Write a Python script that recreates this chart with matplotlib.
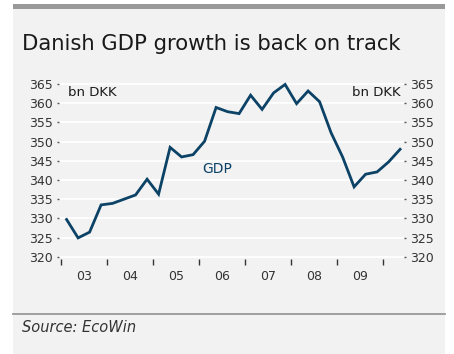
import matplotlib
matplotlib.use("Agg")
import matplotlib.pyplot as plt
from matplotlib.patches import Rectangle
from matplotlib.lines import Line2D
import numpy as np

# Data: quarterly Danish GDP, bn DKK, 2003Q1 - 2010Q2
quarters = ["2003Q1","2003Q2","2003Q3","2003Q4","2004Q1","2004Q2","2004Q3","2004Q4",
            "2005Q1","2005Q2","2005Q3","2005Q4","2006Q1","2006Q2","2006Q3","2006Q4",
            "2007Q1","2007Q2","2007Q3","2007Q4","2008Q1","2008Q2","2008Q3","2008Q4",
            "2009Q1","2009Q2","2009Q3","2009Q4","2010Q1","2010Q2"]
gdp = [329.7, 324.9, 326.4, 333.5, 333.9, 335.0, 336.1, 340.2,
       336.3, 348.5, 346.0, 346.6, 350.1, 358.9, 357.8, 357.3,
       362.1, 358.4, 362.7, 364.9, 359.9, 363.2, 360.4, 352.3,
       346.0, 338.2, 341.5, 342.1, 344.7, 348.0]
year_labels = ["03", "04", "05", "06", "07", "08", "09"]
year_starts = [2003, 2004, 2005, 2006, 2007, 2008, 2009, 2010]
y_ticks = [320, 325, 330, 335, 340, 345, 350, 355, 360, 365]

x = np.array([int(q[:4]) + (int(q[-1]) - 1) / 4 + 0.125 for q in quarters])

W, H = 454, 354
fig = plt.figure(figsize=(W / 100, H / 100), dpi=100)
fig.patch.set_facecolor("white")

bg = "#f2f2f2"
fig.add_artist(Rectangle((13 / W, 0), (445 - 13) / W, 1 - 8 / H,
                         transform=fig.transFigure, facecolor=bg, edgecolor="none", zorder=0))
fig.add_artist(Rectangle((13 / W, 1 - 8.5 / H), (445 - 13) / W, 4.5 / H,
                         transform=fig.transFigure, facecolor="#999999", edgecolor="none", zorder=1))
fig.add_artist(Line2D([13 / W, 445 / W], [1 - 313.5 / H, 1 - 313.5 / H],
                      transform=fig.transFigure, color="#999999", lw=1.3))

fig.text(22 / W, 1 - 44 / H, "Danish GDP growth is back on track", fontsize=15.2,
         color="#1a1a1a", va="center", ha="left")
fig.text(22 / W, 1 - 327 / H, "Source: EcoWin", fontsize=10.5, style="italic",
         color="#333333", va="center", ha="left")

ax_l, ax_r = 59, 404
ax_t, ax_b = 81, 259
ax = fig.add_axes([ax_l / W, 1 - ax_b / H, (ax_r - ax_l) / W, (ax_b - ax_t) / H])
ax.set_facecolor(bg)
for s in ax.spines.values():
    s.set_visible(False)

ax.set_ylim(319.4, 365.8)
ax.set_xlim(2002.96, 2010.46)
ax.set_yticks(y_ticks)
for v in y_ticks:
    ax.axhline(v, color="white", lw=1.3, zorder=1)

ax.plot(x, gdp, color="#0b4266", lw=2.0, zorder=3, solid_joinstyle="miter")

ax.tick_params(axis="y", which="both", left=True, right=True, labelleft=True, labelright=True,
               length=1.5, width=1, color="#555555", labelsize=9, labelcolor="#333333", pad=3)
ax.set_xticks(year_starts)
ax.set_xticklabels([])
ax.set_xticks([y + 0.5 for y in year_starts[:-1]], minor=True)
ax.set_xticklabels(year_labels, minor=True)
ax.tick_params(axis="x", which="major", length=4, width=1, color="#333333", direction="out", pad=0)
ax.tick_params(axis="x", which="minor", length=0, labelsize=9, labelcolor="#333333", pad=8)

ax.text(0.025, 0.935, "bn DKK", transform=ax.transAxes, fontsize=9.5, color="#1a1a1a",
        ha="left", va="center")
ax.text(0.99, 0.935, "bn DKK", transform=ax.transAxes, fontsize=9.5, color="#1a1a1a",
        ha="right", va="center")
ax.text(2006.07, 342.8, "GDP", fontsize=10, color="#0b4266", ha="left", va="center")

fig.savefig("out.png", dpi=100, facecolor=fig.get_facecolor())
